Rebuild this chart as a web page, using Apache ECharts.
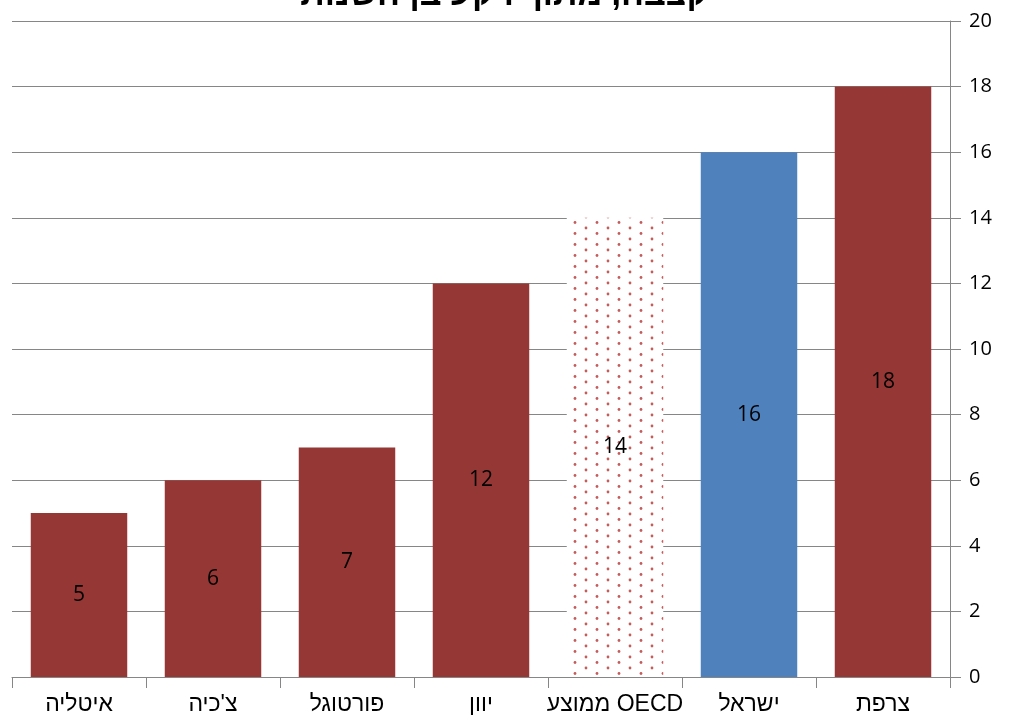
<!DOCTYPE html>
<html>
<head>
<meta charset="utf-8">
<script src="https://cdn.jsdelivr.net/npm/echarts@6/dist/echarts.min.js"></script>
<style>
  html, body { margin: 0; padding: 0; background: #fff; }
  #main { width: 1009px; height: 720px; }
</style>
</head>
<body>
<div id="main"></div>
<script>
// data
var categories = ['איטליה', "צ'כיה", 'פורטוגל', 'יוון', 'ממוצע OECD', 'ישראל', 'צרפת'];
var values = [5, 6, 7, 12, 14, 16, 18];
var yTicks = [0, 2, 4, 6, 8, 10, 12, 14, 16, 18, 20];
var titleText = 'קצבה, מתוך רקע בן השנות';

// staggered dot pattern for the OECD bar (white background hides the grid lines)
function dotPattern () {
  var c = document.createElement('canvas');
  c.width = 22; c.height = 11;
  var ctx = c.getContext('2d');
  ctx.fillStyle = '#fff';
  ctx.fillRect(0, 0, 22, 11);
  ctx.fillStyle = '#c55c5a';
  [[3, 2.5], [14, 8]].forEach(function (p) {
    ctx.beginPath();
    ctx.arc(p[0], p[1], 1.4, 0, Math.PI * 2);
    ctx.fill();
  });
  return c;
}

var red = '#953735';
var blue = '#4f81bd';
var axisGray = '#868686';

var chart = echarts.init(document.getElementById('main'));
chart.setOption({
  animation: false,
  title: {
    text: titleText,
    left: 'center',
    top: -26,
    textStyle: { fontSize: 34, fontWeight: 'bold', color: '#000', fontFamily: 'Liberation Sans' }
  },
  grid: { left: 12, right: 59, top: 21, bottom: 43, containLabel: false },
  xAxis: {
    type: 'category',
    data: categories,
    axisLine: { lineStyle: { color: axisGray, width: 1 } },
    axisTick: { show: true, interval: 0, length: 11, lineStyle: { color: axisGray } },
    axisLabel: { interval: 0, color: '#000', fontSize: 23, margin: 16, fontFamily: 'Liberation Sans' }
  },
  yAxis: {
    type: 'value',
    position: 'right',
    min: yTicks[0],
    max: yTicks[yTicks.length - 1],
    interval: 2,
    axisLine: { show: true, lineStyle: { color: axisGray, width: 1 } },
    axisTick: { show: true, length: 11, lineStyle: { color: axisGray } },
    axisLabel: { color: '#000', fontSize: 20, margin: 19, fontFamily: 'Open Sans' },
    splitLine: { show: true, lineStyle: { color: axisGray, width: 1 } }
  },
  series: [{
    type: 'bar',
    data: values,
    barCategoryGap: '28%',
    itemStyle: {
      color: function (p) {
        if (p.name === 'ישראל') return blue;
        if (p.name === 'ממוצע OECD') return { image: dotPattern(), repeat: 'repeat' };
        return red;
      }
    },
    label: {
      show: true,
      position: 'inside',
      color: '#000',
      fontSize: 21,
      fontFamily: 'Open Sans'
    }
  }]
});
</script>
</body>
</html>
